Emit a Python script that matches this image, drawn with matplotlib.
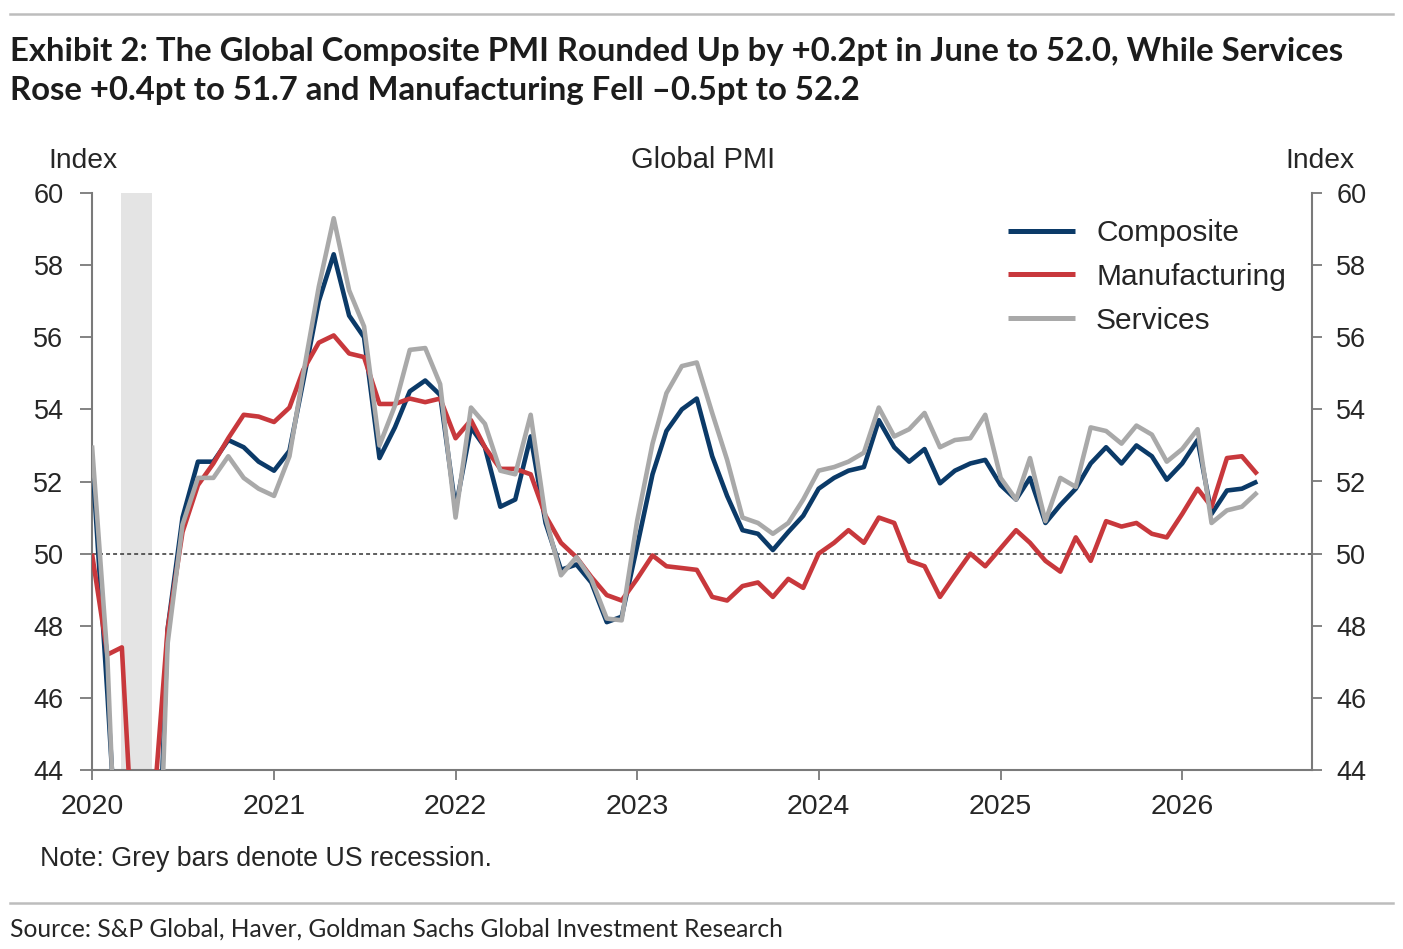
import matplotlib
matplotlib.use("Agg")
import matplotlib.pyplot as plt
from matplotlib.lines import Line2D
import pandas as pd

# ---------------- data ----------------
months = pd.date_range("2020-01-01", "2026-06-01", freq="MS")

composite = [52.7, 46.1, 39.4, 26.2, 36.3, 47.9, 51.0, 52.55, 52.55, 53.15, 52.95, 52.55,
             52.3, 52.85, 54.8, 57.0, 58.3, 56.6, 56.0, 52.65, 53.5, 54.5, 54.8, 54.4,
             51.25, 53.5, 52.95, 51.3, 51.5, 53.25, 50.85, 49.55, 49.7, 49.2, 48.1, 48.25,
             50.2, 52.2, 53.4, 54.0, 54.3, 52.7, 51.6, 50.65, 50.55, 50.1, 50.6, 51.05,
             51.8, 52.1, 52.3, 52.4, 53.7, 52.95, 52.55, 52.9, 51.95, 52.3, 52.5, 52.6,
             51.9, 51.5, 52.1, 50.85, 51.35, 51.8, 52.5, 52.95, 52.5, 53.0, 52.7, 52.05,
             52.5, 53.15, 51.1, 51.75, 51.8, 52.0]

manufacturing = [50.0, 47.2, 47.4, 39.6, 42.4, 47.9, 50.6, 51.9, 52.5, 53.2, 53.85, 53.8,
                 53.65, 54.05, 55.1, 55.85, 56.05, 55.55, 55.45, 54.15, 54.15, 54.3, 54.2, 54.3,
                 53.2, 53.7, 52.95, 52.35, 52.35, 52.2, 51.05, 50.3, 49.9, 49.35, 48.85, 48.7,
                 49.3, 49.95, 49.65, 49.6, 49.55, 48.8, 48.7, 49.1, 49.2, 48.8, 49.3, 49.05,
                 50.0, 50.3, 50.65, 50.3, 51.0, 50.85, 49.8, 49.65, 48.8, 49.4, 50.0, 49.65,
                 50.15, 50.65, 50.3, 49.8, 49.5, 50.45, 49.8, 50.9, 50.75, 50.85, 50.55, 50.45,
                 51.1, 51.8, 51.3, 52.65, 52.7, 52.2]

services = [53.0, 47.1, 37.1, 23.7, 35.1, 47.5, 50.8, 52.1, 52.1, 52.7, 52.1, 51.8,
            51.6, 52.7, 55.0, 57.4, 59.3, 57.3, 56.3, 53.0, 54.1, 55.65, 55.7, 54.7,
            51.0, 54.05, 53.6, 52.3, 52.2, 53.85, 51.0, 49.4, 49.9, 49.3, 48.2, 48.15,
            50.9, 53.05, 54.45, 55.2, 55.3, 53.9, 52.6, 51.0, 50.85, 50.55, 50.85, 51.5,
            52.3, 52.4, 52.55, 52.8, 54.05, 53.25, 53.45, 53.9, 52.95, 53.15, 53.2, 53.85,
            52.1, 51.5, 52.65, 50.9, 52.1, 51.85, 53.5, 53.4, 53.05, 53.55, 53.3, 52.55,
            52.9, 53.45, 50.85, 51.2, 51.3, 51.7]

series_names = ["Composite", "Manufacturing", "Services"]
series_colors = ["#0b3a68", "#c8383c", "#a9a9a9"]
year_labels = [2020, 2021, 2022, 2023, 2024, 2025, 2026]
y_ticks = [44, 46, 48, 50, 52, 54, 56, 58, 60]
recession_start, recession_end = "2020-02-29", "2020-04-30"

title_line1 = "Exhibit 2: The Global Composite PMI Rounded Up by +0.2pt in June to 52.0, While Services"
title_line2 = "Rose +0.4pt to 51.7 and Manufacturing Fell \u20130.5pt to 52.2"
source_text = "Source: S&P Global, Haver, Goldman Sachs Global Investment Research"
note_text = "Note: Grey bars denote US recession."

# ---------------- layout ----------------
W, H = 1403, 949
fig = plt.figure(figsize=(W / 100, H / 100), dpi=100)
fig.patch.set_facecolor("white")

def P(x, y):
    return (x / W, 1 - y / H)

CF = "Liberation Sans"
TF = "Lato"
TXT = "#262626"
AXC = "#7a7a7a"
FS = 19.5

ax = fig.add_axes([92 / W, 1 - 770 / H, (1312 - 92) / W, (770 - 193) / H])
ax.axvspan(pd.Timestamp(recession_start), pd.Timestamp(recession_end),
           color="#e4e4e4", lw=0, zorder=0)
ax.axhline(50, color="#333333", lw=1.1, ls=(0, (2.6, 2.0)), zorder=1)

handles = []
for vals, name, col, z in zip([composite, manufacturing, services], series_names,
                              series_colors, [3, 4, 5]):
    ln, = ax.plot(months, vals, color=col, lw=3.3, label=name, zorder=z,
                  solid_joinstyle="round", solid_capstyle="butt")
    handles.append(ln)

ax.set_xlim(pd.Timestamp("2020-01-01"), pd.Timestamp("2026-09-19"))
ax.set_ylim(44, 60)
ax.set_xticks([pd.Timestamp(f"{y}-01-01") for y in year_labels])
ax.set_xticklabels([str(y) for y in year_labels], fontfamily=CF, fontsize=20.5, color=TXT)
ax.set_yticks(y_ticks)
ax.set_yticklabels([str(v) for v in y_ticks], fontfamily=CF, fontsize=FS, color=TXT)
ax.tick_params(axis="x", direction="out", length=7.5, width=1.3, color=AXC, pad=10)
ax.tick_params(axis="y", direction="out", length=8.5, width=1.3, color=AXC, pad=12)
for s in ["top", "right"]:
    ax.spines[s].set_visible(False)
for s in ["left", "bottom"]:
    ax.spines[s].set_color(AXC)
    ax.spines[s].set_linewidth(1.5)

ax2 = ax.twinx()
ax2.set_ylim(44, 60)
ax2.set_yticks(y_ticks)
ax2.set_yticklabels([str(v) for v in y_ticks], fontfamily=CF, fontsize=FS, color=TXT)
ax2.tick_params(axis="y", direction="out", length=7.5, width=1.3, color=AXC, pad=10)
for s in ["top", "left", "bottom"]:
    ax2.spines[s].set_visible(False)
ax2.spines["right"].set_color(AXC)
ax2.spines["right"].set_linewidth(1.5)

leg = ax.legend(handles=handles, loc="upper left",
                bbox_to_anchor=P(1008, 219), bbox_transform=fig.transFigure,
                frameon=False, handlelength=2.25, handletextpad=0.7,
                labelspacing=0.53, borderpad=0, borderaxespad=0,
                prop={"family": CF, "size": 21.5})
for t in leg.get_texts():
    t.set_color(TXT)
for lh in leg.legend_handles:
    lh.set_linewidth(3.6)

# header texts of chart
fig.text(*P(48, 168), "Index", family=CF, fontsize=20.3, color=TXT, ha="left", va="baseline")
fig.text(*P(703, 168), "Global PMI", family=CF, fontsize=21, color=TXT, ha="center", va="baseline")
fig.text(*P(1355, 168), "Index", family=CF, fontsize=20.3, color=TXT, ha="right", va="baseline")
fig.text(*P(40, 866), note_text, family=CF, fontsize=19.3, color=TXT, ha="left", va="baseline")

# titles
t1 = fig.text(*P(10, 61), title_line1, family=TF, weight="bold", fontsize=22,
              color="#1c1c1c", ha="left", va="baseline")
t2 = fig.text(*P(10, 100), title_line2, family=TF, weight="bold", fontsize=22,
              color="#1c1c1c", ha="left", va="baseline")
src = fig.text(*P(10, 937), source_text, family=TF, fontsize=16,
               color="#262626", ha="left", va="baseline")

# fit widths to reference
renderer = fig.canvas.get_renderer()
w1 = t1.get_window_extent(renderer).width
fs_title = 22 * 1332 / w1
t1.set_fontsize(fs_title)
t2.set_fontsize(fs_title)
ws = src.get_window_extent(renderer).width
src.set_fontsize(16 * 777 / ws)

# rules
fig.add_artist(Line2D([10 / W, 1393 / W], [1 - 14 / H] * 2, color="#bdbdbd", lw=1.8))
fig.add_artist(Line2D([10 / W, 1393 / W], [1 - 903 / H] * 2, color="#bdbdbd", lw=1.8))

fig.savefig("out.png", dpi=100, facecolor="white")
